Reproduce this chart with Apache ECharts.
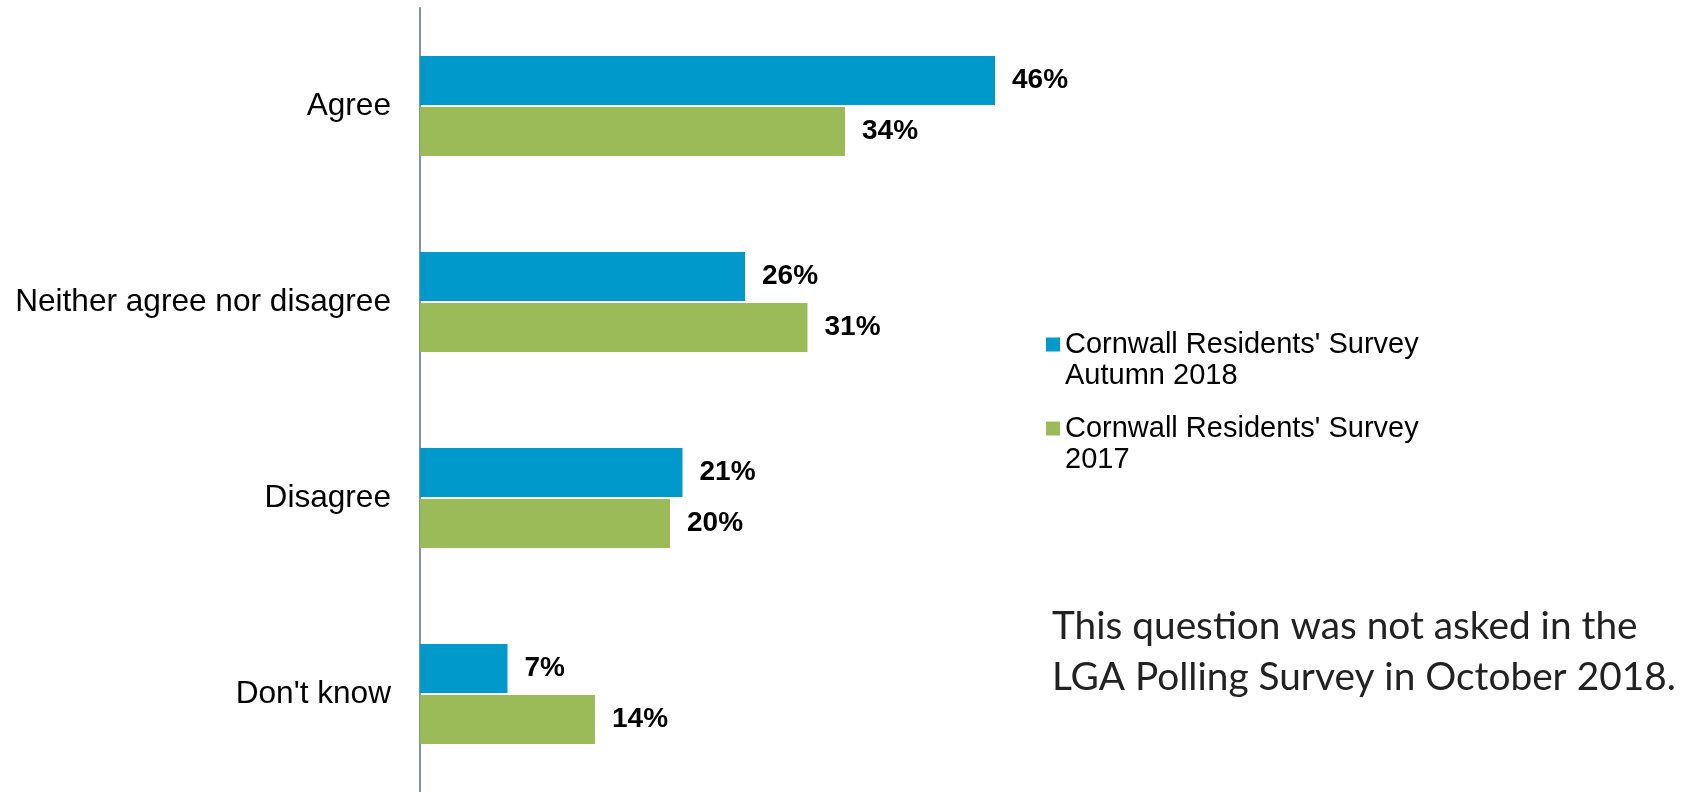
<!DOCTYPE html>
<html>
<head>
<meta charset="utf-8">
<style>
  html, body { margin: 0; padding: 0; background: #ffffff; }
  #chart { width: 1692px; height: 792px; }
</style>
<script src="https://cdn.jsdelivr.net/npm/echarts@6/dist/echarts.min.js"></script>
</head>
<body>
<div id="chart"></div>
<script>
// Survey responses (% of residents)
const categories = ['Agree', 'Neither agree nor disagree', 'Disagree', "Don't know"];
const seriesNames = ["Cornwall Residents' Survey\nAutumn 2018", "Cornwall Residents' Survey\n2017"];
const autumn2018 = [46, 26, 21, 7];
const survey2017 = [34, 31, 20, 14];
const noteLines = ['This question was not asked in the', 'LGA Polling Survey in October 2018.'];

const BLUE = '#0099CC';
const GREEN = '#9BBB59';
const LINE_H = 31;
const SQ = 14;
// Legend marker: a square at the top of an icon box LINE_H + SQ tall. The legend
// centres the two-line name on that box, which puts the square level with the
// first line. The zero-area segment at the bottom only sets the box height.
const ICON_H = LINE_H + SQ;
const markerPath = 'path://M0,0L' + SQ + ',0L' + SQ + ',' + SQ + 'L0,' + SQ + 'Z ' +
  'M0,' + ICON_H + 'L' + SQ + ',' + ICON_H;

const chart = echarts.init(document.getElementById('chart'));

function legendFor(name, top) {
  return {
    data: [{ name: name, icon: markerPath }],
    left: 1046,
    top: top,
    padding: 0,
    itemWidth: SQ,
    itemHeight: ICON_H,
    itemGap: 0,
    selectedMode: false,
    textStyle: {
      fontFamily: 'Liberation Sans, Arial, sans-serif',
      fontSize: 29,
      color: '#000000',
      lineHeight: LINE_H
    }
  };
}

const barLabel = {
  show: true,
  position: 'right',
  distance: 17,
  formatter: '{c}%',
  fontFamily: 'Liberation Sans, Arial, sans-serif',
  fontWeight: 'bold',
  fontSize: 28,
  color: '#000000'
};

chart.setOption({
  animation: false,
  backgroundColor: '#ffffff',
  title: {
    text: noteLines.join('\n'),
    left: 1052,
    top: 601,
    padding: 0,
    textStyle: {
      fontFamily: 'Lato, sans-serif',
      fontWeight: 'normal',
      fontSize: 38.8,
      lineHeight: 51,
      color: '#222222'
    }
  },
  legend: [legendFor(seriesNames[0], 329), legendFor(seriesNames[1], 413)],
  grid: { left: 420, top: 8, width: 625, height: 788, containLabel: false },
  xAxis: {
    type: 'value',
    min: 0,
    max: 50,
    show: false
  },
  yAxis: {
    type: 'category',
    data: categories,
    inverse: true,
    axisLine: { show: true, lineStyle: { color: '#8093A8', width: 2 } },
    axisTick: { show: false },
    axisLabel: {
      margin: 29,
      fontFamily: 'Liberation Sans, Arial, sans-serif',
      fontSize: 31.6,
      color: '#000000'
    }
  },
  series: [
    {
      name: seriesNames[0],
      type: 'bar',
      data: autumn2018,
      barWidth: 49,
      barGap: '4%',
      itemStyle: { color: BLUE },
      label: barLabel
    },
    {
      name: seriesNames[1],
      type: 'bar',
      data: survey2017,
      barWidth: 49,
      barGap: '4%',
      itemStyle: { color: GREEN },
      label: barLabel
    }
  ]
});
</script>
</body>
</html>
